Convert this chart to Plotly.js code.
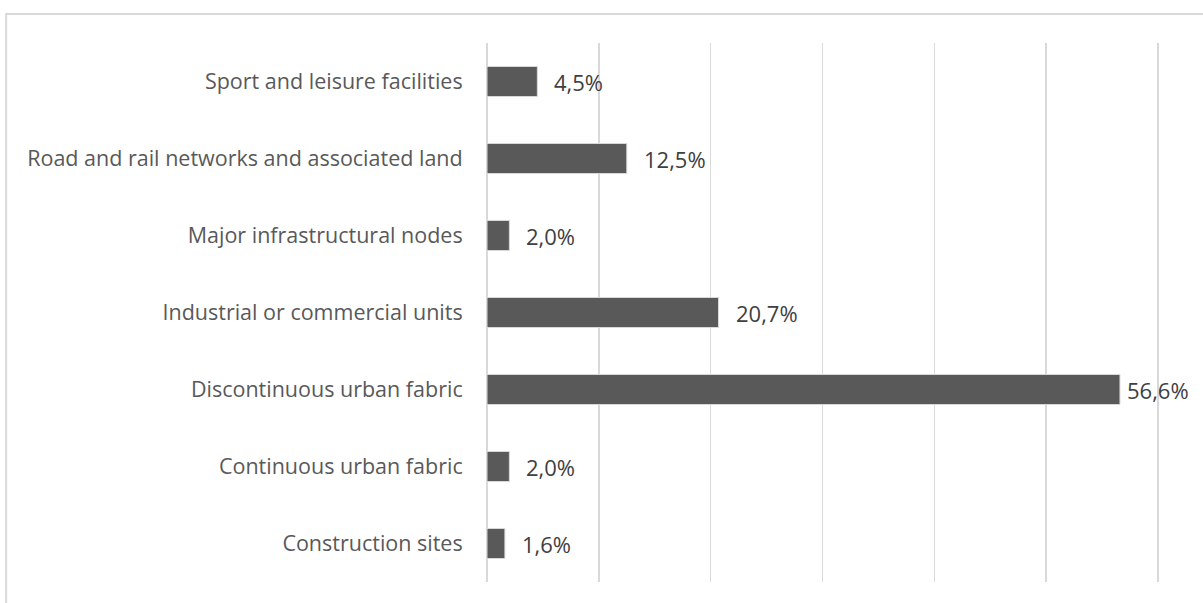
<!DOCTYPE html>
<html>
<head>
<meta charset="utf-8">
<script src="https://cdn.plot.ly/plotly-3.0.1.min.js"></script>
<style>html,body{margin:0;padding:0;background:#fff;}#chart{width:1203px;height:603px;}</style>
</head>
<body>
<div id="chart"></div>
<script>
const categories = [
  "Construction sites",
  "Continuous urban fabric",
  "Discontinuous urban fabric",
  "Industrial or commercial units",
  "Major infrastructural nodes",
  "Road and rail networks and associated land",
  "Sport and leisure facilities"
];
const values = [1.6, 2.0, 56.6, 20.7, 2.0, 12.5, 4.5];
const valueLabels = ["1,6%", "2,0%", "56,6%", "20,7%", "2,0%", "12,5%", "4,5%"];
const gridTicks = [0, 10, 20, 30, 40, 50, 60];

const maxV = Math.max(...values);
const annotations = categories.map((c, i) => ({
  x: values[i], y: c, xref: 'x', yref: 'y',
  text: valueLabels[i], showarrow: false,
  xanchor: 'left', yanchor: 'middle',
  xshift: values[i] === maxV ? 5 : 15,
  font: {family: 'Open Sans, sans-serif', size: 22, color: '#404040'}
}));

const trace = {
  type: 'bar', orientation: 'h',
  x: values, y: categories,
  marker: {color: '#595959', line: {color: '#d9d9d9', width: 1}},
  hoverinfo: 'skip'
};

const layout = {
  width: 1203, height: 603,
  margin: {l: 486, r: 44, t: 43, b: 21},
  paper_bgcolor: '#fff', plot_bgcolor: '#fff',
  showlegend: false,
  bargap: 0.61,
  xaxis: {
    range: [-0.09, 60.09], tickvals: gridTicks, showticklabels: false,
    showgrid: true, gridcolor: '#d9d9d9', gridwidth: 1.5,
    zeroline: false, showline: false, ticks: '', fixedrange: true
  },
  yaxis: {
    categoryorder: 'array', categoryarray: categories,
    showgrid: false, zeroline: false, showline: false,
    ticks: 'outside', ticklen: 18, tickcolor: 'rgba(0,0,0,0)',
    tickfont: {family: 'Open Sans, sans-serif', size: 21.5, color: '#595959'},
    fixedrange: true
  },
  annotations: annotations,
  shapes: [{
    type: 'rect', xref: 'paper', yref: 'paper',
    x0: -0.713, x1: 1.2, y0: -0.2, y1: 1.0538,
    line: {color: '#d9d9d9', width: 2}, fillcolor: 'rgba(0,0,0,0)', layer: 'below'
  }]
};

Plotly.newPlot('chart', [trace], layout, {displayModeBar: false, staticPlot: true});
</script>
</body>
</html>
